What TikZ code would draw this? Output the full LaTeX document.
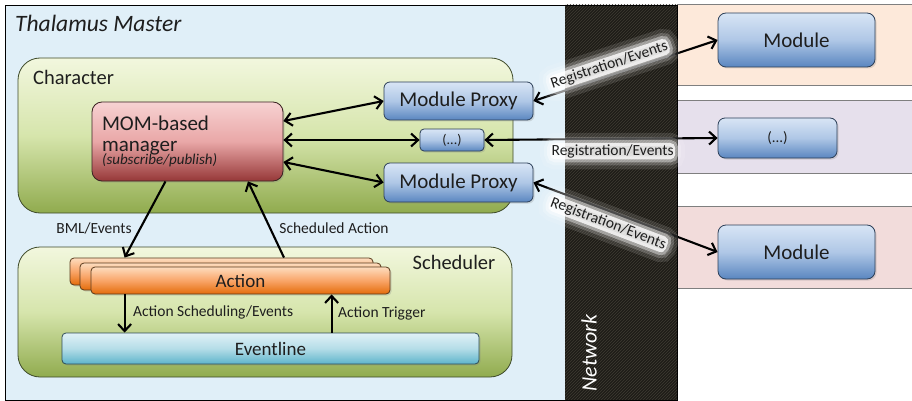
\documentclass[tikz,border=0pt]{standalone}
\usepackage{fontspec}
\setmainfont{Carlito}
\usetikzlibrary{arrows.meta,shadows,patterns,calc}
\definecolor{txt}{HTML}{1E1E1E}
\definecolor{framebg}{HTML}{E0EFF8}
\definecolor{netbg}{HTML}{1E1C17}
\definecolor{nethatch}{HTML}{3E3B33}
\definecolor{greentop}{HTML}{F2F7DE}
\definecolor{greenmid}{HTML}{D6E5AC}
\definecolor{greenbot}{HTML}{90AB4E}
\definecolor{greenedge}{HTML}{3E4A2A}
\definecolor{modtop}{HTML}{D8E5F5}
\definecolor{modmid}{HTML}{AFC7E6}
\definecolor{modbot}{HTML}{5A86C0}
\definecolor{modedge}{HTML}{2C3F58}
\definecolor{momtop}{HTML}{F7D2D2}
\definecolor{mommid}{HTML}{E9A7A7}
\definecolor{mombot}{HTML}{963838}
\definecolor{momedge}{HTML}{3A2222}
\definecolor{acttop}{HTML}{FDDCBE}
\definecolor{actmid}{HTML}{F9A568}
\definecolor{actbot}{HTML}{E46C0A}
\definecolor{actedge}{HTML}{5A3A1C}
\definecolor{evtop}{HTML}{E0F1F6}
\definecolor{evmid}{HTML}{B5DDE8}
\definecolor{evbot}{HTML}{5DB4CA}
\definecolor{evedge}{HTML}{2E4C58}
\definecolor{panelA}{HTML}{FDE9DA}
\definecolor{panelB}{HTML}{E6E0EC}
\definecolor{panelC}{HTML}{F2DCDB}
\definecolor{panelline}{HTML}{7F7F7F}
\begin{document}
\begin{tikzpicture}[x=1pt,y=-1pt,
  >={Straight Barb[length=7pt,width=13pt]},
  lbl/.style={font=\fontsize{15.5}{16}\selectfont, text=txt, inner sep=1pt},
  arr/.style={line width=2.1pt, draw=black},
  boxshadow/.style={drop shadow={opacity=0.25, shadow xshift=1.5pt, shadow yshift=-1.5pt}},
  modbox/.style={draw=modedge, line width=0.8pt, rounded corners=6pt, top color=modtop, bottom color=modbot, middle color=modmid, text=txt, inner sep=0pt, boxshadow},
  grpbox/.style={draw=greenedge, line width=0.8pt, rounded corners=22pt, top color=greentop, bottom color=greenbot, middle color=greenmid},
  actbox/.style={draw=actedge, line width=0.8pt, rounded corners=4pt, top color=acttop, bottom color=actbot, middle color=actmid, text=txt, inner sep=0pt, boxshadow, font=\fontsize{19}{19}\selectfont},
  glow/.style={rounded corners=5pt, inner sep=1.5pt,
    preaction={draw=white, draw opacity=0.12, line width=20pt},
    preaction={draw=white, draw opacity=0.2, line width=12pt},
    preaction={draw=white, draw opacity=0.4, line width=6pt},
    fill=white, fill opacity=0.8, text opacity=1}
]
\useasboundingbox (0,0) rectangle (912,401);
\fill[white] (0,0) rectangle (912,401);

% right panels
\fill[panelA] (677,5) rectangle (912,86);
\draw[panelline, line width=1pt] (677,5) -- (912,5) (677,86) -- (912,86);
\fill[panelB] (677,101) rectangle (912,173);
\draw[panelline, line width=1pt] (677,101) -- (912,101) (677,173) -- (912,173);
\fill[panelC] (677,206) rectangle (912,288);
\draw[panelline, line width=1pt] (677,206) -- (912,206) (677,288) -- (912,288);

% Thalamus master frame
\draw[fill=framebg, line width=0.8pt, draw=black] (5,5) rectangle (677,400);
% network band
\fill[netbg] (565,5) rectangle (677,400);
\fill[pattern=north east lines, pattern color=nethatch] (565,5) rectangle (677,400);
\draw[line width=0.8pt] (5,400) -- (677,400) (5,5) -- (677,5);
\node[font=\fontsize{22}{22}\selectfont\itshape, text=white, rotate=90] (network) at (589,353) {Network};

\node[anchor=west, font=\fontsize{23.5}{24}\selectfont\itshape, text=txt, inner sep=0pt] (title) at (15,23) {Thalamus Master};

% Character group
\draw[grpbox] (18,58) rectangle (513,213);
\node[anchor=west, font=\fontsize{20.5}{21}\selectfont, text=txt, inner sep=0pt] (charlbl) at (33,77) {Character};

% Scheduler group
\draw[grpbox] (18,247) rectangle (512,377);
\node[font=\fontsize{20.5}{21}\selectfont, text=txt, inner sep=0pt] (schedlbl) at (454,262) {Scheduler};

% MOM manager
\node[draw=momedge, line width=0.8pt, rounded corners=10pt, top color=momtop, bottom color=mombot, middle color=mommid, boxshadow,
      minimum width=191pt, minimum height=79pt, text width=171pt, inner xsep=10pt, inner ysep=0pt, align=left, text=txt] (mom) at (187.5,141.5)
  {\fontsize{21}{21}\selectfont MOM-based\\manager\\[-3pt]{\fontsize{15}{15}\selectfont\itshape (subscribe/publish)}};

% proxies
\node[modbox, minimum width=149pt, minimum height=38pt, font=\fontsize{21}{21}\selectfont] (proxyA) at (458.5,101) {Module Proxy};
\node[modbox, rounded corners=4pt, minimum width=64pt, minimum height=22pt, font=\fontsize{14}{14}\selectfont] (dotsA) at (452,140) {(...)};
\node[modbox, minimum width=149pt, minimum height=39pt, font=\fontsize{21}{21}\selectfont] (proxyB) at (458.5,182.5) {Module Proxy};

% remote modules
\node[modbox, rounded corners=8pt, minimum width=157pt, minimum height=54pt, font=\fontsize{21}{21}\selectfont] (modA) at (796.5,40) {Module};
\node[modbox, rounded corners=7pt, minimum width=119pt, minimum height=40pt, font=\fontsize{15}{15}\selectfont] (dotsB) at (777.5,138) {(...)};
\node[modbox, rounded corners=8pt, minimum width=157pt, minimum height=54pt, font=\fontsize{21}{21}\selectfont] (modB) at (796.5,252) {Module};

% action stack
\node[actbox, minimum width=303pt, minimum height=27pt] (actC) at (221.5,271.5) {};
\node[actbox, minimum width=301pt, minimum height=27pt] (actB) at (230.5,276.5) {};
\node[actbox, minimum width=299pt, minimum height=27pt] (actA) at (240.5,280.5) {Action};

% eventline
\node[draw=evedge, line width=0.8pt, rounded corners=4pt, top color=evtop, bottom color=evbot, middle color=evmid, boxshadow,
      minimum width=417pt, minimum height=31pt, inner sep=0pt, text=txt, font=\fontsize{19}{19}\selectfont] (ev) at (270.5,348.5) {Eventline};

% connectors inside character
\draw[arr, <->] ([yshift=20.5pt]mom.east) -- (proxyA.west);
\draw[arr, <->] (mom.east |- dotsA.west) -- (dotsA.west);
\draw[arr, <->] ([yshift=-20.5pt]mom.east) -- (proxyB.west);

% network connectors
\draw[arr, <->] (proxyA.east) -- node[lbl, glow, sloped, above=1pt, pos=0.43] (regA) {Registration/Events} (modA.west);
\draw[arr, <->] (dotsA.east) -- node[lbl, glow, below=3pt, pos=0.55] (regB) {Registration/Events} (dotsB.west);
\draw[arr, <->] (proxyB.east) -- node[lbl, glow, sloped, below=3pt, pos=0.43] (regC) {Registration/Events} (modB.west);

% manager <-> scheduler
\draw[arr, ->] ([xshift=-22pt]mom.south) -- ([xshift=55pt]actC.north west);
\draw[arr, ->] ([xshift=62.5pt]actC.north) -- ([xshift=60.5pt]mom.south);
\node[lbl] (bml) at (94,228) {BML/Events};
\node[lbl] (sched) at (334,228) {Scheduled Action};

% action <-> eventline
\coordinate (asrc) at ([xshift=34pt]actA.south west);
\draw[arr, ->] (asrc) -- (asrc |- ev.north);
\coordinate (tsrc) at ([xshift=270pt]ev.north west);
\draw[arr, ->] (tsrc) -- (tsrc |- actA.south);
\node[lbl, anchor=west] (aslbl) at (132,312) {Action Scheduling/Events};
\node[lbl, anchor=west] (atlbl) at (337,313) {Action Trigger};
\end{tikzpicture}
\end{document}
